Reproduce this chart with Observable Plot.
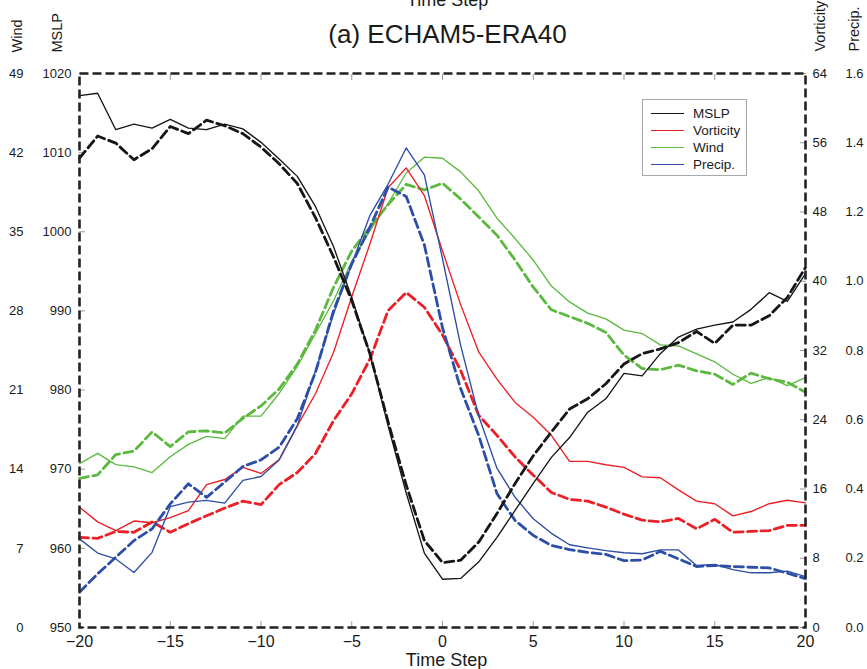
<!DOCTYPE html>
<html>
<head>
<meta charset="utf-8">
<script src="https://cdn.jsdelivr.net/npm/d3@7"></script>
<script src="https://cdn.jsdelivr.net/npm/@observablehq/plot@0.6"></script>
<style>
  html, body { margin: 0; padding: 0; background: #fff; }
  #wrap { position: relative; width: 867px; height: 669px; overflow: hidden; font-family: "Liberation Sans", Arial, Helvetica, sans-serif; }
  #legend { position: absolute; left: 642px; top: 99px; width: 105px; height: 77px; border: 1px solid #a8a8a8; background: #fff; box-sizing: border-box; }
  #legend .row { position: absolute; left: 0; width: 100%; height: 17px; }
  #legend .sw { position: absolute; left: 8px; top: 8px; width: 33px; height: 0; border-top: 1.5px solid #000; }
  #legend .lab { position: absolute; left: 50px; top: 0; line-height: 17px; font-size: 13.5px; color: #1a1a1a; white-space: nowrap; }
</style>
</head>
<body>
<div id="wrap"></div>
<script>
// ---------- data ----------
const steps = [-20,-19,-18,-17,-16,-15,-14,-13,-12,-11,-10,-9,-8,-7,-6,-5,-4,-3,-2,-1,0,1,2,3,4,5,6,7,8,9,10,11,12,13,14,15,16,17,18,19,20];

const mslpSolid = [1017.2,1017.5,1012.9,1013.6,1013.1,1014.2,1013.1,1012.9,1013.6,1013.0,1011.3,1009.2,1007.0,1003.2,998.1,991.7,984.6,975.5,967.0,959.4,956.1,956.2,958.3,961.4,964.8,968.2,971.5,974.0,977.2,978.9,982.1,981.8,984.6,986.7,987.7,988.2,988.6,990.2,992.3,991.2,994.7];
const mslpDashed = [1009.3,1012.1,1011.2,1009.1,1010.5,1013.3,1012.4,1014.1,1013.4,1012.4,1010.7,1008.6,1006.1,1001.8,996.8,991.3,984.6,976.0,968.0,961.0,958.2,958.5,960.8,964.4,968.2,971.7,974.7,977.6,978.9,980.8,983.3,984.6,985.2,986.0,987.4,985.9,988.2,988.2,989.4,991.7,995.5];

const windSolid = [14.5,15.4,14.4,14.2,13.7,15.1,16.2,16.9,16.7,18.7,18.7,20.7,23.1,26.0,28.9,32.4,35.1,37.5,40.2,41.6,41.5,40.3,38.6,36.2,34.4,32.5,30.2,28.8,27.8,27.3,26.3,26.0,25.0,24.9,24.2,23.5,22.4,21.6,22.1,21.4,22.1];
const windDashed = [13.2,13.5,15.3,15.6,17.3,16.0,17.3,17.4,17.2,18.5,19.6,21.1,23.3,26.3,30.1,33.3,35.4,37.4,39.2,38.7,39.3,37.9,36.3,34.7,32.5,30.1,28.1,27.5,26.9,26.1,24.1,22.9,22.8,23.2,22.7,22.4,21.5,22.5,22.0,21.7,20.8];

const vortSolid = [13.9,12.2,11.2,12.3,12.1,12.7,13.5,16.5,17.1,18.5,17.8,19.4,23.3,27.0,31.8,38.2,44.3,50.8,53.1,49.9,43.5,37.3,31.8,28.7,26.0,24.3,22.2,19.2,19.2,18.8,18.5,17.4,17.3,15.9,14.6,14.3,12.9,13.4,14.3,14.7,14.4];
const vortDashed = [10.4,10.3,11.1,11.0,12.2,11.0,12.0,12.9,13.8,14.6,14.2,16.5,17.9,20.1,23.9,27.0,31.0,36.6,38.7,37.0,33.8,29.7,24.5,22.2,19.7,17.6,15.6,14.8,14.6,13.9,13.1,12.4,12.2,12.6,11.4,12.5,11.0,11.1,11.2,11.8,11.8];

const precipSolid = [0.256,0.215,0.198,0.159,0.217,0.349,0.362,0.367,0.359,0.425,0.436,0.484,0.583,0.740,0.906,1.050,1.190,1.280,1.385,1.307,1.065,0.815,0.610,0.460,0.376,0.314,0.272,0.239,0.230,0.222,0.216,0.213,0.224,0.224,0.179,0.182,0.167,0.158,0.158,0.163,0.147];
const precipDashed = [0.102,0.155,0.203,0.251,0.285,0.357,0.415,0.376,0.420,0.465,0.484,0.521,0.603,0.737,0.915,1.050,1.156,1.272,1.245,1.105,0.866,0.690,0.554,0.387,0.309,0.266,0.237,0.225,0.217,0.211,0.193,0.195,0.220,0.198,0.176,0.179,0.176,0.174,0.172,0.157,0.141];

// tick labels
const stepTicks = [-20,-15,-10,-5,0,5,10,15,20];
const innerStepTicks = [-15,-10,-5,0,5,10,15];
const mslpTicks = [950,960,970,980,990,1000,1010,1020];
const windTicks = [0,7,14,21,28,35,42,49];
const vortTicks = [0,8,16,24,32,40,48,56,64];
const precipTicks = [0.0,0.2,0.4,0.6,0.8,1.0,1.2,1.4,1.6];

const seriesNames = ["MSLP","Vorticity","Wind","Precip."];
const seriesColors = ["#161616","#ec1f26","#5cb940","#2d4ea6"];

// ---------- helpers: map each variable's axis range onto the MSLP scale ----------
const lo = mslpTicks[0], hi = mslpTicks[mslpTicks.length - 1];
const toMslp = (ticks) => { const a = ticks[0], b = ticks[ticks.length - 1]; return v => lo + (v - a) / (b - a) * (hi - lo); };
const fromMslp = (ticks) => { const a = ticks[0], b = ticks[ticks.length - 1]; return y => a + (y - lo) / (hi - lo) * (b - a); };

const series = [
  {solid: mslpSolid, dashed: mslpDashed, to: v => v, color: seriesColors[0]},
  {solid: vortSolid, dashed: vortDashed, to: toMslp(vortTicks), color: seriesColors[1]},
  {solid: windSolid, dashed: windDashed, to: toMslp(windTicks), color: seriesColors[2]},
  {solid: precipSolid, dashed: precipDashed, to: toMslp(precipTicks), color: seriesColors[3]}
];

const lineMarks = [];
for (const s of [series[2], series[1], series[3], series[0]]) {
  lineMarks.push(Plot.line(s.dashed, {x: steps, y: s.dashed.map(s.to), stroke: s.color, strokeWidth: 2.8, strokeDasharray: "9,4.5"}));
  lineMarks.push(Plot.line(s.solid, {x: steps, y: s.solid.map(s.to), stroke: s.color, strokeWidth: 1.35}));
}

const windPos = windTicks.map(toMslp(windTicks));
const vortPos = vortTicks.map(toMslp(vortTicks));
const windInv = fromMslp(windTicks), vortInv = fromMslp(vortTicks), precipInv = fromMslp(precipTicks);

const chart = Plot.plot({
  width: 867,
  height: 669,
  marginTop: 73,
  marginBottom: 42,
  marginLeft: 79,
  marginRight: 62,
  x: {domain: [-20, 20], label: null},
  y: {domain: [lo, hi], label: null},
  style: {fontFamily: "'Liberation Sans', Arial, Helvetica, sans-serif", fontSize: "13px", color: "#1a1a1a", background: "white"},
  marks: [
    // inward gray ticks
    Plot.axisX({anchor: "bottom", ticks: innerStepTicks, tickSize: 6, dy: -6, tickFormat: () => "", stroke: "#9a9a9a", label: null}),
    Plot.axisX({anchor: "top", ticks: innerStepTicks, tickSize: 6, dy: 6, tickFormat: () => "", stroke: "#9a9a9a", label: null}),
    Plot.axisY({anchor: "left", ticks: mslpTicks, tickSize: 6, dx: 6, tickFormat: () => "", stroke: "#9a9a9a", label: null}),
    Plot.axisY({anchor: "right", ticks: vortPos, tickSize: 6, dx: -6, tickFormat: () => "", stroke: "#9a9a9a", label: null}),
    // labels
    Plot.axisX({anchor: "bottom", ticks: stepTicks, tickSize: 0, tickPadding: 8, fontSize: 16, label: null}),
    Plot.axisY({anchor: "left", ticks: mslpTicks, tickSize: 0, tickPadding: 8, tickFormat: d => String(d), label: null}),
    Plot.axisY({anchor: "left", ticks: windPos, tickSize: 0, tickPadding: 56, tickFormat: d => String(Math.round(windInv(d))), label: null}),
    Plot.axisY({anchor: "right", ticks: vortPos, tickSize: 0, tickPadding: 7, tickFormat: d => String(Math.round(vortInv(d))), label: null}),
    Plot.axisY({anchor: "right", ticks: vortPos, tickSize: 0, tickPadding: 40, tickFormat: d => precipInv(d).toFixed(1), label: null}),
    ...lineMarks,
    Plot.frame({stroke: "#222", strokeWidth: 2.6, strokeDasharray: "9,4"}),
    // titles
    Plot.text(["(a) ECHAM5-ERA40"], {text: d => d, frameAnchor: "top", dx: 5, dy: -31, lineAnchor: "bottom", fontSize: 26, fill: "#1a1a1a"}),
    Plot.text(["Time Step"], {text: d => d, frameAnchor: "top", dx: 5, dy: -68, lineAnchor: "bottom", fontSize: 18, fill: "#1a1a1a"}),
    Plot.text(["Time Step"], {text: d => d, frameAnchor: "bottom", dx: 4, dy: 38, lineAnchor: "bottom", fontSize: 18, fill: "#1a1a1a"}),
    // rotated axis titles
    Plot.text(["Wind"], {text: d => d, frameAnchor: "top-left", dx: -62.5, dy: -21, rotate: -90, textAnchor: "start", lineAnchor: "middle", fontSize: 14.5, fill: "#1a1a1a"}),
    Plot.text(["MSLP"], {text: d => d, frameAnchor: "top-left", dx: -22.5, dy: -21, rotate: -90, textAnchor: "start", lineAnchor: "middle", fontSize: 14.5, fill: "#1a1a1a"}),
    Plot.text(["Vorticity"], {text: d => d, frameAnchor: "top-right", dx: 15, dy: -22, rotate: -90, textAnchor: "start", lineAnchor: "middle", fontSize: 14.5, fill: "#1a1a1a"}),
    Plot.text(["Precip."], {text: d => d, frameAnchor: "top-right", dx: 48.5, dy: -22, rotate: -90, textAnchor: "start", lineAnchor: "middle", fontSize: 14.5, fill: "#1a1a1a"})
  ]
});

const wrap = document.getElementById("wrap");
wrap.appendChild(chart);

// legend
const legend = document.createElement("div");
legend.id = "legend";
seriesNames.forEach((name, i) => {
  const row = document.createElement("div");
  row.className = "row";
  row.style.top = (4.5 + i * 17) + "px";
  const sw = document.createElement("div");
  sw.className = "sw";
  sw.style.borderTopColor = seriesColors[i];
  const lab = document.createElement("div");
  lab.className = "lab";
  lab.textContent = name;
  row.appendChild(sw);
  row.appendChild(lab);
  legend.appendChild(row);
});
wrap.appendChild(legend);
</script>
</body>
</html>
